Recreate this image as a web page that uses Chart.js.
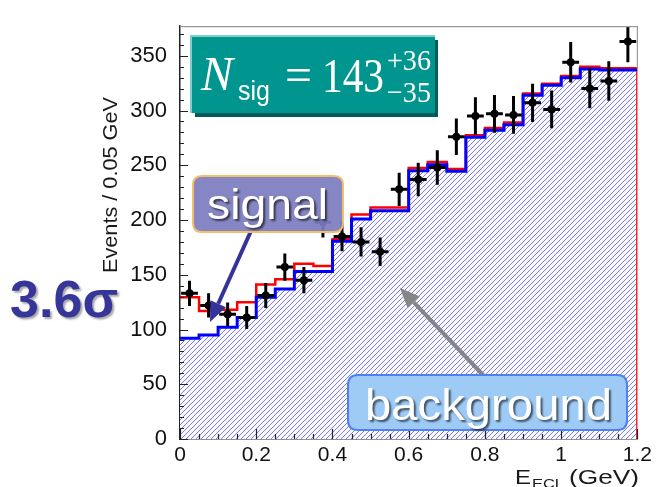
<!DOCTYPE html>
<html>
<head>
<meta charset="utf-8">
<script src="https://cdn.jsdelivr.net/npm/chart.js@4.4.0/dist/chart.umd.min.js"></script>
<style>
  html, body { margin: 0; padding: 0; background: #fff; }
  #wrap { width: 656px; height: 487px; position: relative; }
</style>
</head>
<body>
<div id="wrap"><canvas id="chart" width="656" height="487"></canvas></div>
<script>
(function(){
  'use strict';

  // Histogram bin edges (GeV), 0.05 GeV bins
  const binEdges = [0, 0.05, 0.1, 0.15, 0.2, 0.25, 0.3, 0.35, 0.4, 0.45, 0.5, 0.55,
                    0.6, 0.65, 0.7, 0.75, 0.8, 0.85, 0.9, 0.95, 1.0, 1.05, 1.1, 1.15, 1.2];
  // Background fit (blue hatched)
  const bkgCounts = [92, 95, 102, 111, 129.5, 137, 153, 153, 180.5, 201, 208.5, 208.5,
                     245, 250.5, 244.5, 275.5, 282, 287, 314, 323, 330, 338, 337, 337];
  // Signal + background fit (red)
  const totalCounts = [129.5, 117, 118, 125, 141, 146, 160, 158, 182.5, 205, 211.5, 211.5,
                       247.5, 253, 246.5, 277.5, 284, 289, 315.5, 324.5, 331.5, 340, 338.5, 338.5];
  // Data points and errors
  const dataCounts = [133, 122, 114, 111, 131, 157, 145, 198, 185, 180, 171, 228,
                      237, 248, 276, 295, 297, 296, 307, 301, 344, 320, 327, 363];
  const dataErrors = [11.5, 11, 10.7, 10.5, 11.4, 12.5, 12, 14, 13.6, 13.4, 13, 15.1,
                      15.4, 15.7, 16.6, 17.2, 17.2, 17.2, 17.5, 17.3, 18.5, 17.9, 18.1, 19];
  const xErr = 0.022;

  const xTickValues = [0, 0.2, 0.4, 0.6, 0.8, 1, 1.2];
  const yTickValues = [0, 50, 100, 150, 200, 250, 300, 350];
  const X_MAX = 1.2, Y_MAX = 377;

  const SANS = '"Liberation Sans", Arial, sans-serif';
  const SERIF = '"Liberation Serif", "Times New Roman", serif';

  function stepPoints(vals){
    return binEdges.map((x, i) => ({ x: x, y: vals[Math.min(i, vals.length - 1)] }));
  }

  const points = dataCounts.map((v, i) => ({
    x: (binEdges[i] + binEdges[i + 1]) / 2, y: v, err: dataErrors[i]
  }));

  // hatch pattern for the background fill (made on the chart's own context)
  let hatch = null;
  function getHatch(ctx){
    if (hatch) return hatch;
    const s = 5;
    const c = document.createElement('canvas');
    c.width = s; c.height = s;
    const g = c.getContext('2d');
    g.fillStyle = '#fbfbff';
    g.fillRect(0, 0, s, s);
    g.strokeStyle = '#6a6af2';
    g.lineWidth = 0.9;
    g.beginPath();
    g.moveTo(0, s); g.lineTo(s, 0);
    g.moveTo(-1, 1); g.lineTo(1, -1);
    g.moveTo(s - 1, s + 1); g.lineTo(s + 1, s - 1);
    g.stroke();
    hatch = ctx.createPattern(c, 'repeat');
    return hatch;
  }

  const redPts = stepPoints(totalCounts).concat([{ x: X_MAX, y: 0 }]);

  // ---- helpers for annotations ----
  function roundRect(ctx, x, y, w, h, r){
    ctx.beginPath();
    ctx.moveTo(x + r, y);
    ctx.lineTo(x + w - r, y); ctx.quadraticCurveTo(x + w, y, x + w, y + r);
    ctx.lineTo(x + w, y + h - r); ctx.quadraticCurveTo(x + w, y + h, x + w - r, y + h);
    ctx.lineTo(x + r, y + h); ctx.quadraticCurveTo(x, y + h, x, y + h - r);
    ctx.lineTo(x, y + r); ctx.quadraticCurveTo(x, y, x + r, y);
    ctx.closePath();
  }

  function fitText(ctx, txt, x, y, font, width){
    ctx.font = font;
    const w = ctx.measureText(txt).width;
    ctx.save();
    ctx.translate(x, y);
    ctx.scale(width / w, 1);
    ctx.fillText(txt, 0, 0);
    ctx.restore();
  }

  function arrow(ctx, x1, y1, x2, y2, color, lw, hl, hw){
    const a = Math.atan2(y2 - y1, x2 - x1);
    const bx = x2 - hl * Math.cos(a), by = y2 - hl * Math.sin(a);
    ctx.save();
    ctx.strokeStyle = color; ctx.fillStyle = color; ctx.lineWidth = lw;
    ctx.beginPath(); ctx.moveTo(x1, y1); ctx.lineTo(bx, by); ctx.stroke();
    ctx.beginPath();
    ctx.moveTo(x2, y2);
    ctx.lineTo(bx + hw / 2 * Math.sin(a), by - hw / 2 * Math.cos(a));
    ctx.lineTo(bx - hw / 2 * Math.sin(a), by + hw / 2 * Math.cos(a));
    ctx.closePath(); ctx.fill();
    ctx.restore();
  }

  // error bars, inward tick marks and the frame
  const axisPlugin = {
    id: 'axisPlugin',
    afterDatasetsDraw(chart){
      const ctx = chart.ctx, xs = chart.scales.x, ys = chart.scales.y, a = chart.chartArea;
      ctx.save();
      ctx.beginPath(); ctx.rect(a.left, a.top, a.right - a.left, a.bottom - a.top); ctx.clip();
      ctx.strokeStyle = '#000'; ctx.lineWidth = 3;
      points.forEach(p => {
        const px = xs.getPixelForValue(p.x), py = ys.getPixelForValue(p.y);
        ctx.beginPath();
        ctx.moveTo(px, ys.getPixelForValue(p.y - p.err));
        ctx.lineTo(px, ys.getPixelForValue(p.y + p.err));
        ctx.moveTo(xs.getPixelForValue(p.x - xErr), py);
        ctx.lineTo(xs.getPixelForValue(p.x + xErr), py);
        ctx.stroke();
      });
      ctx.restore();

      ctx.save();
      // frame
      ctx.strokeStyle = '#9a9a9a'; ctx.lineWidth = 1.2;
      ctx.beginPath();
      ctx.moveTo(a.left, a.top + 0.5); ctx.lineTo(a.right, a.top + 0.5);
      ctx.lineTo(a.right, ys.getPixelForValue(totalCounts[totalCounts.length - 1]));
      ctx.stroke();
      // ticks
      ctx.strokeStyle = '#222'; ctx.lineWidth = 1.2;
      ctx.beginPath();
      for (let v = 0; v <= Y_MAX; v += 10){
        const py = Math.round(ys.getPixelForValue(v)) + 0.5;
        const len = (v % 50 === 0) ? 8 : 4;
        ctx.moveTo(a.left, py); ctx.lineTo(a.left + len, py);
      }
      for (let i = 0; i <= 24; i++){
        const px = Math.round(xs.getPixelForValue(i * 0.05)) + 0.5;
        const len = (i % 4 === 0) ? 10 : 5;
        ctx.moveTo(px, a.bottom); ctx.lineTo(px, a.bottom - len);
      }
      ctx.stroke();
      ctx.restore();
    },
    afterDraw(chart){
      const ctx = chart.ctx;
      ctx.save();

      // axis titles
      ctx.fillStyle = '#1a1a1a';
      ctx.save();
      ctx.translate(111, 97);
      ctx.rotate(-Math.PI / 2);
      ctx.textAlign = 'center'; ctx.textBaseline = 'middle';
      fitText(ctx, 'Events / 0.05 GeV', -88, 0, '21px ' + SANS, 176);
      ctx.restore();
      ctx.textAlign = 'left'; ctx.textBaseline = 'alphabetic';
      fitText(ctx, 'E', 515, 484, '21px ' + SANS, 16);
      fitText(ctx, 'ECL', 532, 488, '13px ' + SANS, 32);
      fitText(ctx, '(GeV)', 569, 484, '21px ' + SANS, 70);

      // 3.6 sigma
      ctx.save();
      ctx.shadowColor = 'rgba(0,0,0,0.35)'; ctx.shadowOffsetX = 2; ctx.shadowOffsetY = 2; ctx.shadowBlur = 2;
      ctx.fillStyle = '#35359a';
      fitText(ctx, '3.6σ', 10, 317, 'bold 52px ' + SANS, 108);
      ctx.restore();

      // N_sig box
      ctx.fillStyle = '#005b5b';
      ctx.fillRect(195, 40, 243, 77);
      ctx.fillStyle = '#00958f';
      ctx.fillRect(190, 35, 245, 78);
      ctx.strokeStyle = '#7fcfcc'; ctx.lineWidth = 2;
      ctx.beginPath(); ctx.moveTo(191, 113); ctx.lineTo(191, 36); ctx.lineTo(435, 36); ctx.stroke();
      ctx.fillStyle = '#fff';
      fitText(ctx, 'N', 201, 90, 'italic 48px ' + SERIF, 32);
      fitText(ctx, 'sig', 238, 100, '28px ' + SANS, 32);
      fitText(ctx, '=', 285, 91, '48px ' + SERIF, 27);
      fitText(ctx, '143', 322, 92, '48px ' + SERIF, 62);
      fitText(ctx, '+36', 387, 70, '30px ' + SERIF, 44);
      fitText(ctx, '\u221235', 387, 102, '30px ' + SERIF, 44);

      // signal label
      arrow(ctx, 251, 231, 210, 322, '#333399', 4, 20, 17);
      ctx.save();
      roundRect(ctx, 193, 176, 150, 56, 9);
      ctx.fillStyle = 'rgba(125,125,192,0.93)'; ctx.fill();
      ctx.strokeStyle = '#f2c068'; ctx.lineWidth = 2; ctx.stroke();
      ctx.shadowColor = 'rgba(0,0,0,0.6)'; ctx.shadowOffsetX = 2; ctx.shadowOffsetY = 2; ctx.shadowBlur = 2;
      ctx.fillStyle = '#fff';
      fitText(ctx, 'signal', 207, 219, '42px ' + SANS, 121);
      ctx.restore();

      // background label
      arrow(ctx, 484, 376, 400, 288, '#858585', 4, 20, 17);
      ctx.save();
      roundRect(ctx, 348, 375, 279, 55, 10);
      ctx.fillStyle = '#9ecbf6'; ctx.fill();
      ctx.strokeStyle = '#4f7ff0'; ctx.lineWidth = 2; ctx.stroke();
      ctx.shadowColor = 'rgba(0,0,0,0.6)'; ctx.shadowOffsetX = 2; ctx.shadowOffsetY = 2; ctx.shadowBlur = 2;
      ctx.fillStyle = '#fff';
      fitText(ctx, 'background', 365, 420, '44px ' + SANS, 247);
      ctx.restore();

      ctx.restore();
    }
  };

  const el = document.getElementById('chart');

  new Chart(el, {
    type: 'scatter',
    data: {
      datasets: [
        { type: 'scatter', label: 'data', data: points, order: 0,
          pointRadius: 4, pointBackgroundColor: '#000', pointBorderColor: '#000', pointBorderWidth: 0 },
        { type: 'line', label: 'bkg', data: stepPoints(bkgCounts), order: 1, stepped: true,
          borderColor: '#0000ff', borderWidth: 3, pointRadius: 0, fill: false },
        { type: 'line', label: 'total', data: redPts, order: 2, stepped: true,
          borderColor: '#ff0000', borderWidth: 2.5, pointRadius: 0, fill: false },
        { type: 'line', label: 'bkg fill', data: stepPoints(bkgCounts), order: 3, stepped: true,
          borderWidth: 0, borderColor: 'rgba(0,0,0,0)', pointRadius: 0, fill: 'origin',
          backgroundColor: c => getHatch(c.chart.ctx) }
      ]
    },
    options: {
      responsive: false,
      animation: false,
      devicePixelRatio: 1,
      layout: { padding: { left: 0, right: 17, top: 8, bottom: 0 } },
      plugins: { legend: { display: false }, tooltip: { enabled: false } },
      scales: {
        x: {
          type: 'linear', min: 0, max: X_MAX,
          afterBuildTicks: s => { s.ticks = xTickValues.map(v => ({ value: v })); },
          afterFit: s => { s.height = 48; },
          ticks: { color: '#111', font: { size: 21, family: SANS }, padding: 4,
                   maxRotation: 0, autoSkip: false, callback: v => String(v) },
          grid: { display: false, drawTicks: false },
          border: { display: true, color: '#222', width: 1.5 }
        },
        y: {
          min: 0, max: Y_MAX,
          afterBuildTicks: s => { s.ticks = yTickValues.map(v => ({ value: v })); },
          afterFit: s => { s.width = 180; },
          ticks: { color: '#111', font: { size: 22, family: SANS }, padding: 13,
                   autoSkip: false, callback: v => String(v) },
          grid: { display: false, drawTicks: false },
          border: { display: true, color: '#222', width: 1.5 }
        }
      }
    },
    plugins: [axisPlugin]
  });
})();
</script>
</body>
</html>
